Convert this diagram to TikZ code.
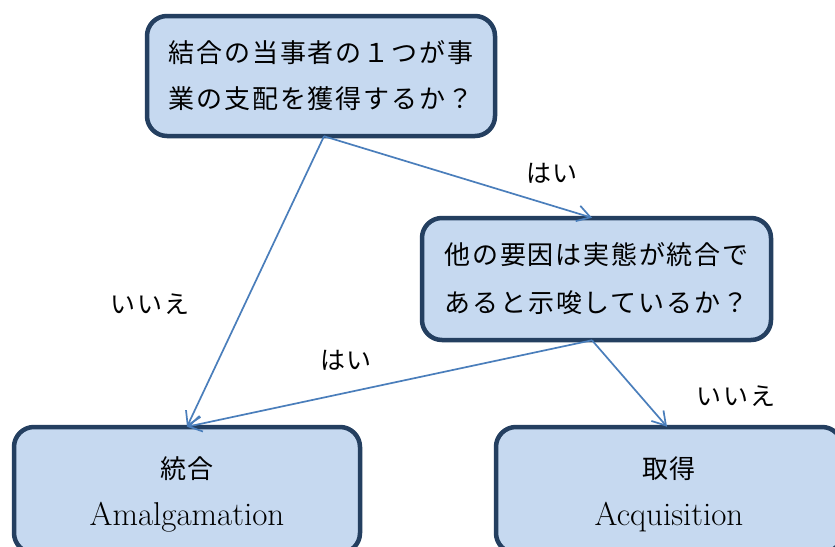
\documentclass[tikz,border=0pt]{standalone}
\usepackage{fontspec}
\newfontfamily\jp[LetterSpace=7]{Noto Sans CJK JP}
\usetikzlibrary{arrows.meta}
\definecolor{boxfill}{HTML}{C6D9F0}
\definecolor{boxline}{HTML}{243F60}
\definecolor{arrowcol}{HTML}{4A7EBB}
\tikzset{
  qbox/.style={draw=boxline, fill=boxfill, line width=4.5pt, rounded corners=20pt,
    align=center, inner sep=0pt, font=\jp\fontsize{26}{48}\selectfont, text=black},
  intext/.style={align=center, inner sep=0pt, font=\jp\fontsize{26}{48}\selectfont, text=black},
  conn/.style={draw=arrowcol, line width=1.7pt, -{Straight Barb[length=13pt,width=16pt,line width=1.7pt]}},
  lbl/.style={font=\jp\fontsize{25}{28}\selectfont, text=black, inner sep=0pt}
}
\newcommand{\lat}[1]{{\rmfamily\fontsize{33}{48}\selectfont #1}}
\begin{document}
\begin{tikzpicture}[x=1pt,y=-1pt]
\useasboundingbox (0,0) rectangle (835,546);
\clip (0,0) rectangle (835,546);
\fill[white] (0,0) rectangle (835,546);
\node[qbox, minimum width=348pt, minimum height=120pt] (top) at (321,76)
  {\raisebox{-2pt}{結合の当事者の１つが事}\\業の支配を獲得するか？};
\node[qbox, minimum width=349pt, minimum height=122pt] (mid) at (596.5,279)
  {他の要因は実態が統合で\\あると示唆しているか？};
\node[qbox, minimum width=346pt, minimum height=126pt] (bl) at (187,490) {};
\node[qbox, minimum width=346pt, minimum height=126pt] (br) at (669,490) {};
\node[intext] (blt) at (187,494) {統合\\[-1pt]\lat{Amalgamation}};
\node[intext] (brt) at (669,494) {取得\\[-1pt]\lat{Acquisition}};
\draw[conn] ([xshift=3pt,yshift=2pt]top.south) -- ([yshift=-2pt]bl.north);
\draw[conn] ([xshift=3pt,yshift=2pt]top.south) -- ([xshift=-4.5pt,yshift=-2pt]mid.north);
\draw[conn] ([xshift=-4.5pt,yshift=2pt]mid.south) -- ([yshift=-2pt]bl.north);
\draw[conn] ([xshift=-4.5pt,yshift=2pt]mid.south) -- ([xshift=-2pt,yshift=-2pt]br.north);
\node[lbl] (l1) at (150,304) {いいえ};
\node[lbl] (l2) at (552,173) {はい};
\node[lbl] (l3) at (346,360) {はい};
\node[lbl] (l4) at (736,396) {いいえ};
\end{tikzpicture}
\end{document}
